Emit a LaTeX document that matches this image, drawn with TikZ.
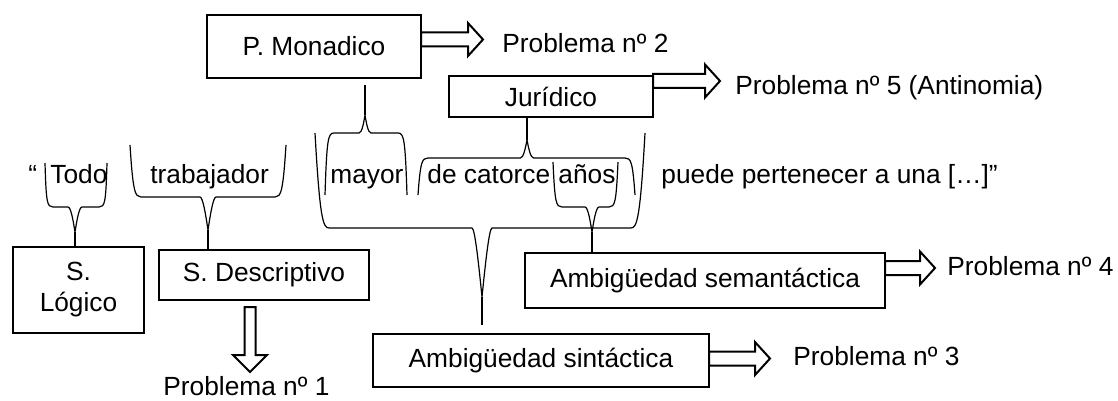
\documentclass[tikz,border=0pt]{standalone}
\usepackage{fontspec}
\setmainfont{Liberation Sans}
\usetikzlibrary{calc}
\tikzset{
  box/.style={draw, line width=1.3pt, inner sep=0pt, outer sep=0pt},
  word/.style={inner sep=0pt, anchor=base west},
  brc/.style={line width=0.6pt},
  arr/.style={line width=1pt, line join=miter},
}
% brace: L R T(free ends) B(bar) M(tip x) C(cusp join) P(tip end) w(cusp half width) k(arm slant)
\newcommand\mybrace[9]{%
  \draw[brc] (#1,#3) .. controls ({#1+0.6*#9},{#3+0.9*(#4-#3)}) and ({#1+#9},#4) .. ({#1+#9+6},#4)
    -- ({#5-#8},#4) .. controls ({#5-#8+3},#4) and ({#5-0.4*(#8-3)},{#6-0.4*(#6-#4)}) .. (#5,#6)
    .. controls ({#5+0.4*(#8-3)},{#6-0.4*(#6-#4)}) and ({#5+#8-3},#4) .. ({#5+#8},#4)
    -- ({#2-#9-6},#4) .. controls ({#2-#9},#4) and ({#2-0.6*#9},{#3+0.9*(#4-#3)}) .. (#2,#3);
  \draw[brc] (#5,#6) -- (#5,#7);
}
% right block arrow: start anchor, length, vertical offset of centre
\newcommand\rarr[3]{%
  \draw[arr] ($(#1)+(0,#3)$) ++(0,-7) -- ++({#2-15},0) -- ++(0,-9.5) -- ++(15,16.5)
    -- ++(-15,16.5) -- ++(0,-9.5) -- ++({15-#2},0) -- cycle;
}
\begin{document}
\begin{tikzpicture}[x=0.5pt,y=-0.5pt,font=\fontsize{13.15pt}{13.6pt}\selectfont]
\useasboundingbox (0,0) rectangle (1118,401);

% boxes
\node[box, minimum width=107pt, minimum height=31.5pt] (pmon) at (314,46.5) {P. Monadico};
\node[box, minimum width=102pt, minimum height=20.5pt] (jur) at (551,96.5) {Jurídico};
\node[box, minimum width=65.5pt, minimum height=43pt, align=center,
      font=\fontsize{13.15pt}{15.5pt}\selectfont] (slog) at (78.5,290) {S.\\Lógico};
\node[box, minimum width=105pt, minimum height=25pt] (sdesc) at (264,275) {S. Descriptivo};
\node[box, minimum width=180pt, minimum height=27.5pt] (asem) at (705,280.5) {Ambigüedad semantáctica};
\node[box, minimum width=168pt, minimum height=26.5pt] (asin) at (541,360.5) {Ambigüedad sintáctica};

% sentence
\node[word] (q) at (28,183) {“};
\node[word] (todo) at (50,183) {Todo};
\node[word] (trab) at (150,183) {trabajador};
\node[word] (mayor) at (330,183) {mayor};
\node[word] (decat) at (427,183) {de catorce};
\node[word] (anos) at (558,183) {años};
\node[word] (puede) at (661,183) {puede pertenecer a una […]”};

% problem labels
\node[word] (p2) at (502,53) {Problema nº 2};
\node[word] (p5) at (735,95) {Problema nº 5 (Antinomia)};
\node[word] (p4) at (947,275) {Problema nº 4};
\node[word] (p3) at (793,365) {Problema nº 3};
\node[word] (p1) at (163,395) {Problema nº 1};

% braces
\mybrace{45}{107}{163}{207}{75}{232}{248}{7}{2}
\mybrace{130}{286}{145}{197}{208}{230}{250}{8}{5}
\mybrace{325}{407}{195}{133}{365}{115}{85}{6}{3}
\mybrace{418}{635}{195}{158}{527}{140}{117}{6.5}{4}
\mybrace{553}{618}{162}{207}{592}{232}{253}{7}{3}
\mybrace{315}{645}{133}{228}{482}{297}{325}{10}{8}

% block arrows
\rarr{pmon.east}{62}{-7}
\rarr{jur.east}{67}{-15.5}
\rarr{asem.east}{50}{-12.5}
\rarr{asin.east}{61}{-2}
\draw[arr] ($(sdesc.south)+(-14,7)$) ++(-5.5,0) -- ++(0,48) -- ++(-11.5,0) -- ++(17,17)
  -- ++(17,-17) -- ++(-11.5,0) -- ++(0,-48) -- cycle;
\end{tikzpicture}
\end{document}
